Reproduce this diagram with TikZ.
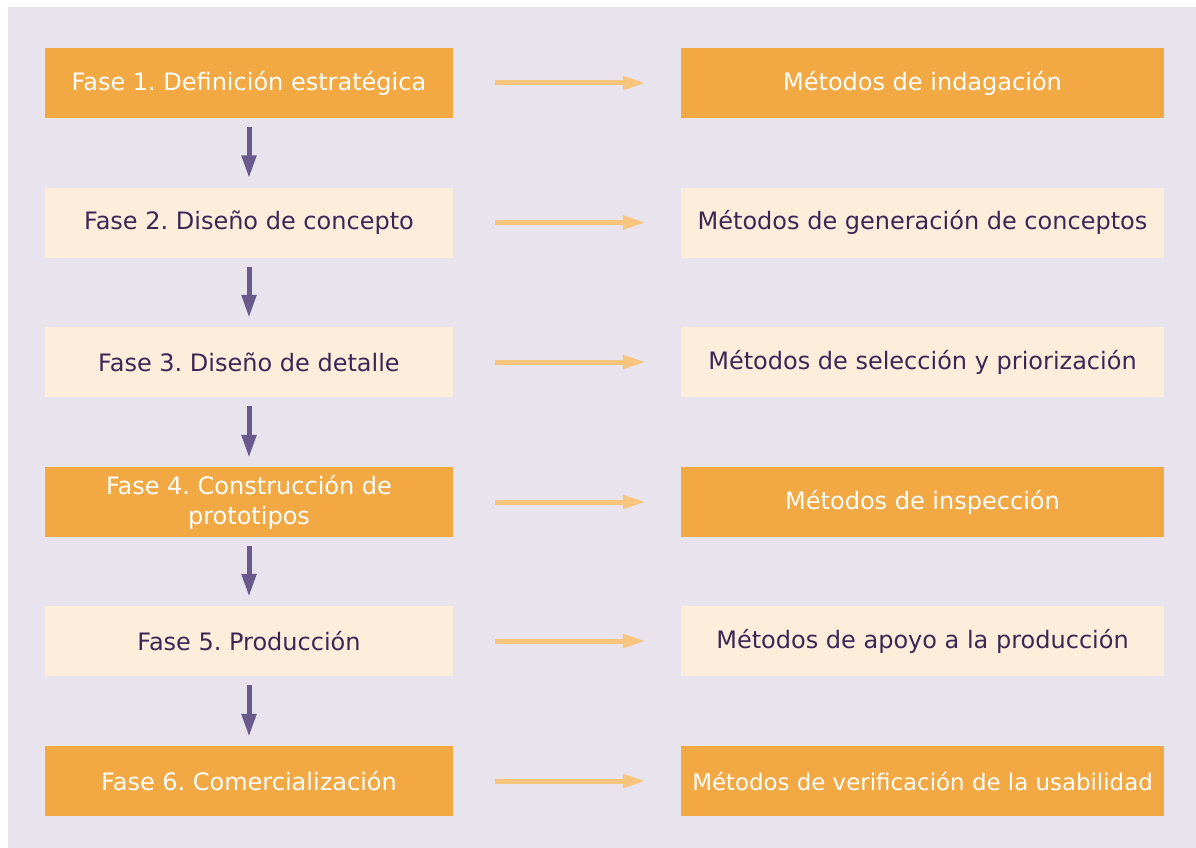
\documentclass[tikz,border=0pt]{standalone}
\usepackage{fontspec}
\setmainfont{DejaVu Sans}
\frenchspacing
\usetikzlibrary{arrows.meta,positioning}
\definecolor{bgpurple}{HTML}{E8E3EC}
\definecolor{phaseorange}{HTML}{F2A943}
\definecolor{phasecream}{HTML}{FDEEDC}
\definecolor{linkorange}{HTML}{F9C47E}
\definecolor{flowpurple}{HTML}{6A5A8B}
\definecolor{textpurple}{HTML}{3B2656}
\tikzstyle{phase} = [minimum width=408pt, minimum height=70pt, inner sep=0pt, align=center, font=\fontsize{24}{30}\selectfont]
\tikzstyle{method} = [phase, minimum width=483pt]
\tikzstyle{dark} = [fill=phaseorange, text=white]
\tikzstyle{light} = [fill=phasecream, text=textpurple]
\tikzstyle{flow} = [line width=5pt, draw=flowpurple, -{Triangle[length=23pt,width=14pt]}, shorten <=9pt, shorten >=9pt]
\tikzstyle{link} = [line width=5pt, draw=linkorange, -{Triangle[length=23pt,width=13pt]}, shorten <=42pt, shorten >=35pt]

\begin{document}
\begin{tikzpicture}[x=1pt,y=-1pt]
    \useasboundingbox (0,0) rectangle (1196,848);
    \fill [bgpurple] (8,7) rectangle (1196,848);
    % phases
    \node [phase,dark]  (f1) at (249,83)    {Fase 1. Definición estratégica};
    \node [phase,light] (f2) at (249,222.5) {Fase 2. Diseño de concepto};
    \node [phase,light] (f3) at (249,362)   {Fase 3. Diseño de detalle};
    \node [phase,dark]  (f4) at (249,502)   {Fase 4. Construcción de\\prototipos};
    \node [phase,light] (f5) at (249,641)   {Fase 5. Producción};
    \node [phase,dark]  (f6) at (249,781)   {Fase 6. Comercialización};
    % methods
    \node [method,dark]  (m1) at (922.5,83)    {Métodos de indagación};
    \node [method,light] (m2) at (922.5,222.5) {Métodos de generación de conceptos};
    \node [method,light] (m3) at (922.5,362)   {Métodos de selección y priorización};
    \node [method,dark]  (m4) at (922.5,502)   {Métodos de inspección};
    \node [method,light] (m5) at (922.5,641)   {Métodos de apoyo a la producción};
    \node [method,dark,font=\fontsize{22.9}{30}\selectfont] (m6) at (922.5,781) {Métodos de verificación de la usabilidad};
    % arrows
    \foreach \i in {1,...,6}
        \draw [link] (f\i.east) -- (m\i.west);
    \foreach \i/\j in {1/2,2/3,3/4,4/5,5/6}
        \draw [flow] (f\i.south) -- (f\j.north);
\end{tikzpicture}
\end{document}
